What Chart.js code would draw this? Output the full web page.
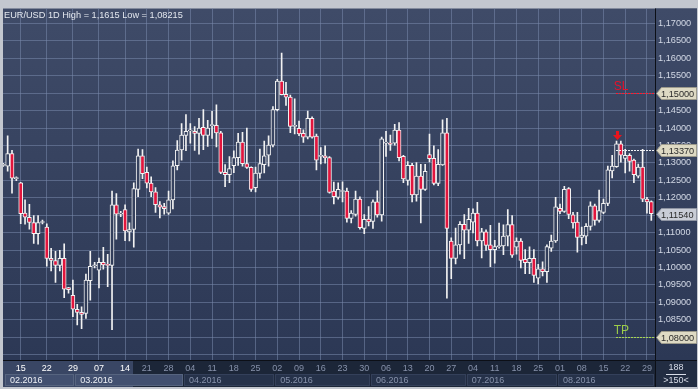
<!DOCTYPE html>
<html lang="en">
<head>
<meta charset="UTF-8" />
<title>EUR/USD 1D</title>
<script src="https://cdn.jsdelivr.net/npm/chart.js@4.4.0/dist/chart.umd.min.js"></script>
<style>
  html, body { margin: 0; padding: 0; background: #c3c7cf; }
  #wrap { width: 698px; height: 389px; }
</style>
</head>
<body>
<div id="wrap"><canvas id="candles" width="698" height="389"></canvas></div>
<script>
// daily candles, Feb -> Aug 2016, oldest first
const opens = [
  1.1293,1.1291,1.1327,1.1255,1.1243,1.1156,1.1144,1.1129,1.1097,1.1129,
  1.1116,1.1026,1.1020,1.1006,1.1026,1.0942,1.0920,1.0880,1.0871,1.0868,
  1.0962,1.1005,1.0992,1.1015,1.1007,1.1006,1.1180,1.1153,1.1166,1.1102,
  1.1109,1.1224,1.1320,1.1273,1.1242,1.1217,1.1180,1.1175,1.1156,1.1194,
  1.1292,1.1337,1.1379,1.1392,1.1391,1.1385,1.1402,1.1379,1.1407,1.1408,
  1.1386,1.1273,1.1266,1.1292,1.1315,1.1360,1.1298,1.1287,1.1229,1.1270,
  1.1295,1.1322,1.1351,1.1453,1.1535,1.1497,1.1489,1.1405,1.1399,1.1385,
  1.1374,1.1428,1.1377,1.1319,1.1320,1.1315,1.1219,1.1201,1.1218,1.1219,
  1.1141,1.1152,1.1196,1.1112,1.1139,1.1132,1.1188,1.1151,1.1357,1.1357,
  1.1357,1.1394,1.1319,1.1250,1.1293,1.1208,1.1262,1.1224,1.1324,1.1313,
  1.1241,1.1294,1.1386,1.1076,1.1026,1.1065,1.1124,1.1107,1.1130,1.1156,
  1.1076,1.1102,1.1065,1.1051,1.1060,1.1062,1.1090,1.1123,1.1058,1.1076,
  1.1023,1.1014,1.1026,1.0969,1.0996,1.0988,1.1055,1.1076,1.1170,1.1161,
  1.1226,1.1151,1.1130,1.1086,1.1090,1.1118,1.1177,1.1135,1.1158,1.1184,
  1.1277,1.1289,1.1355,1.1313,1.1322,1.1308,1.1262,1.1288,1.1196,1.1189
];
const highs = [
  1.1299,1.1378,1.1336,1.1260,1.1244,1.1194,1.1181,1.1149,1.1149,1.1136,
  1.1125,1.1055,1.1046,1.1049,1.1068,1.0943,1.0964,1.0894,1.0887,1.0981,
  1.1046,1.1015,1.1027,1.1058,1.1038,1.1219,1.1212,1.1161,1.1180,1.1128,
  1.1243,1.1340,1.1338,1.1288,1.1260,1.1229,1.1189,1.1184,1.1219,1.1306,
  1.1364,1.1413,1.1439,1.1413,1.1404,1.1428,1.1453,1.1422,1.1448,1.1467,
  1.1391,1.1295,1.1318,1.1335,1.1385,1.1388,1.1400,1.1289,1.1288,1.1340,
  1.1363,1.1378,1.1462,1.1540,1.1615,1.1531,1.1495,1.1484,1.1420,1.1395,
  1.1449,1.1432,1.1383,1.1344,1.1349,1.1318,1.1245,1.1243,1.1246,1.1228,
  1.1163,1.1219,1.1203,1.1152,1.1175,1.1194,1.1220,1.1374,1.1391,1.1380,
  1.1411,1.1416,1.1322,1.1304,1.1299,1.1301,1.1296,1.1296,1.1383,1.1349,
  1.1338,1.1424,1.1428,1.1085,1.1113,1.1132,1.1152,1.1170,1.1168,1.1187,
  1.1112,1.1108,1.1121,1.1078,1.1127,1.1122,1.1166,1.1149,1.1085,1.1083,
  1.1051,1.1059,1.1051,1.1009,1.1016,1.1065,1.1093,1.1201,1.1182,1.1233,
  1.1229,1.1158,1.1158,1.1116,1.1126,1.1188,1.1182,1.1222,1.1196,1.1291,
  1.1322,1.1363,1.1363,1.1339,1.1327,1.1311,1.1297,1.1339,1.1201,1.1191
];
const lows = [
  1.1290,1.1276,1.1213,1.1249,1.1126,1.1124,1.1110,1.1069,1.1067,1.1125,
  1.1004,1.0990,1.0957,1.0990,1.0913,1.0926,1.0859,1.0835,1.0824,1.0854,
  1.0906,1.0999,1.0941,1.0995,1.0945,1.08215,1.1081,1.1146,1.1077,1.1076,
  1.1058,1.1203,1.1255,1.1228,1.1203,1.1158,1.1142,1.1153,1.1152,1.1168,
  1.1280,1.1308,1.1335,1.1357,1.1336,1.1325,1.1338,1.1347,1.1370,1.1346,
  1.1269,1.1232,1.1243,1.1272,1.1293,1.1291,1.1284,1.1218,1.1217,1.1256,
  1.1271,1.1291,1.1346,1.1449,1.1495,1.1465,1.1387,1.1383,1.1378,1.1359,
  1.1369,1.1371,1.1280,1.1297,1.1299,1.1213,1.1182,1.1196,1.1188,1.1130,
  1.1128,1.1147,1.1110,1.1097,1.1119,1.1112,1.1144,1.1133,1.1319,1.1336,
  1.1351,1.1306,1.1243,1.1236,1.1188,1.1190,1.1128,1.1221,1.1303,1.1237,
  1.1235,1.1293,1.0912,1.0968,1.1010,1.1038,1.1025,1.1069,1.1099,1.1062,
  1.1027,1.1049,1.1002,1.1012,1.1055,1.1037,1.1062,1.1029,1.1038,1.0999,
  1.0982,1.0982,1.0957,1.0953,1.0976,1.0957,1.1046,1.1072,1.1154,1.1158,
  1.1140,1.1113,1.1044,1.1065,1.1068,1.1107,1.1121,1.1130,1.1154,1.1177,
  1.1257,1.1287,1.1302,1.1271,1.1276,1.1243,1.1257,1.1189,1.1156,1.1135
];
const closes = [
  1.1295,1.1327,1.1256,1.1256,1.1154,1.1144,1.1129,1.1097,1.1129,1.1131,
  1.1026,1.1020,1.1006,1.1026,1.0938,1.0936,1.0880,1.0871,1.0865,1.0964,
  1.1003,1.1006,1.1015,1.1007,1.1006,1.1180,1.1153,1.1154,1.1105,1.1109,
  1.1226,1.1320,1.1269,1.1242,1.1217,1.1180,1.1173,1.1169,1.1194,1.1292,
  1.1337,1.1380,1.1391,1.1393,1.1385,1.1400,1.1379,1.1400,1.1408,1.1386,
  1.1273,1.1266,1.1284,1.1315,1.1360,1.1298,1.1287,1.1224,1.1271,1.1298,
  1.1320,1.1351,1.1453,1.1535,1.1496,1.1489,1.1405,1.1406,1.1383,1.1374,
  1.1428,1.1374,1.1308,1.1320,1.1315,1.1215,1.1203,1.1224,1.1219,1.1141,
  1.1156,1.1196,1.1114,1.1138,1.1131,1.1188,1.1151,1.1369,1.1358,1.1353,
  1.1394,1.1315,1.1254,1.1293,1.1208,1.1262,1.1224,1.1276,1.1312,1.1241,
  1.1296,1.1386,1.1112,1.1026,1.1065,1.1124,1.1107,1.1138,1.1156,1.1076,
  1.1102,1.1063,1.1051,1.1060,1.1061,1.1090,1.1123,1.1035,1.1076,1.1020,
  1.1014,1.1026,1.0977,1.0996,1.0988,1.1060,1.1076,1.1174,1.1161,1.1224,
  1.1152,1.1128,1.1086,1.1093,1.1118,1.1177,1.1135,1.1163,1.1184,1.1280,
  1.1291,1.1355,1.1322,1.1322,1.1304,1.1266,1.1288,1.1196,1.1188,1.1154
];

// bottom axis: day labels on Mondays, month boxes
const tickIdx  = [4,10,16,22,28,33,38,43,48,53,58,63,68,73,78,83,88,93,98,103,108,113,118,123,128,133,138,143,148];
const tickText = ['15','22','29','07','14','21','28','04','11','18','25','02','09','16','23','30','06','13','20','27','04','11','18','25','01','08','15','22','29'];
const monthIdx  = [0, 17, 42, 63, 85, 107, 128];
const monthText = ['02.2016','03.2016','04.2016','05.2016','06.2016','07.2016','08.2016'];
const lastShownIdx = 28;

// price axis
const yTicks = [1.075,1.08,1.085,1.09,1.095,1.10,1.105,1.11,1.115,1.12,1.125,1.13,1.135,1.14,1.145,1.15,1.155,1.16,1.165,1.17];

// order levels
const levelSL = 1.15;
const levelEntry = 1.1337;
const levelTP = 1.08;
const entryIdx = 141;

const RED = '#e2153d';
const WHITE = '#f2f2f2';
const GRID = 'rgba(120,136,172,0.55)';
const FONT = 'Liberation Sans, Arial, sans-serif';

let fillCache = null;
function plotFill(chart) {
  const a = chart.chartArea;
  if (!a) return '#35415e';
  if (fillCache && fillCache.top === a.top && fillCache.bottom === a.bottom) return fillCache.g;
  const g = chart.ctx.createLinearGradient(0, a.top, 0, a.bottom);
  g.addColorStop(0, '#3f4b68');
  g.addColorStop(1, '#2c3855');
  fillCache = { top: a.top, bottom: a.bottom, g: g };
  return g;
}

function fmt(v) { return v.toFixed(5).replace('.', ','); }

const frame = {
  id: 'frame',
  beforeDraw(chart) {
    const { ctx, chartArea: a, width, height } = chart;
    const xs = chart.scales.x;
    ctx.save();
    ctx.fillStyle = '#c3c7cf';
    ctx.fillRect(0, 0, width, height);
    ctx.fillStyle = plotFill(chart);
    ctx.fillRect(a.left, a.top, width - 1 - a.left, a.bottom - a.top);

    // bottom band
    const bTop = a.bottom, bBot = height - 2;
    ctx.fillStyle = '#1c2638';
    ctx.fillRect(a.left, bTop, a.right - a.left, bBot - bTop);
    ctx.fillStyle = '#394664';
    ctx.fillRect(a.left, bTop, 133 - a.left, bBot - bTop);

    // month boxes
    ctx.font = '9px ' + FONT;
    ctx.textBaseline = 'middle';
    ctx.textAlign = 'left';
    for (let i = 0; i < monthIdx.length; i++) {
      const x0 = i === 0 ? a.left + 2 : xs.getPixelForValue(monthIdx[i]) - 2;
      const x1 = i + 1 < monthIdx.length ? xs.getPixelForValue(monthIdx[i + 1]) - 2 : a.right;
      const shown = monthIdx[i] <= lastShownIdx;
      ctx.fillStyle = shown ? '#425070' : '#26324a';
      ctx.fillRect(x0, bTop + 14, x1 - x0 - 1, 12);
      ctx.strokeStyle = shown ? '#56647f' : '#34405a';
      ctx.lineWidth = 1;
      ctx.strokeRect(Math.round(x0) + 0.5, bTop + 14.5, Math.round(x1 - x0) - 2, 11);
      ctx.fillStyle = shown ? '#eef1f6' : '#8792ab';
      ctx.fillText(monthText[i], x0 + 5, bTop + 20.5);
    }

    // right panel
    ctx.fillStyle = plotFill(chart);
    ctx.fillRect(a.right, a.top, width - 1 - a.right, a.bottom - a.top);
    ctx.fillStyle = '#222d42';
    ctx.fillRect(a.right, a.bottom, width - 1 - a.right, height - 2 - a.bottom);

    ctx.fillStyle = '#0c0f16';
    ctx.fillRect(a.right, a.top, 1, height - a.top - 2);
    ctx.fillRect(a.left, a.bottom, width - 1 - a.left, 1);
    ctx.restore();
  },
  afterDraw(chart) {
    const { ctx, chartArea: a, width } = chart;
    const xs = chart.scales.x, ys = chart.scales.y;
    ctx.save();
    const x0 = xs.getPixelForValue(entryIdx - 0.2);

    function dashLine(y, color) {
      ctx.strokeStyle = color;
      ctx.lineWidth = 1;
      ctx.setLineDash([2, 1]);
      ctx.beginPath();
      ctx.moveTo(Math.round(x0), Math.round(y) + 0.5);
      ctx.lineTo(a.right, Math.round(y) + 0.5);
      ctx.stroke();
      ctx.setLineDash([]);
    }
    function tag(price, fill, stroke) {
      const y = Math.round(ys.getPixelForValue(price));
      ctx.fillStyle = fill;
      ctx.strokeStyle = stroke;
      ctx.lineWidth = 1;
      ctx.beginPath();
      ctx.moveTo(a.right + 1.5, y + 0.5);
      ctx.lineTo(a.right + 6.5, y - 5.5);
      ctx.lineTo(width - 1.5, y - 5.5);
      ctx.lineTo(width - 1.5, y + 6.5);
      ctx.lineTo(a.right + 6.5, y + 6.5);
      ctx.closePath();
      ctx.fill();
      ctx.stroke();
      ctx.fillStyle = '#2a2a2a';
      ctx.font = '9.2px ' + FONT;
      ctx.textAlign = 'left';
      ctx.textBaseline = 'middle';
      ctx.fillText(fmt(price), a.right + 6, y + 1);
    }

    const ySL = ys.getPixelForValue(levelSL);
    const yEn = ys.getPixelForValue(levelEntry);
    const yTP = ys.getPixelForValue(levelTP);
    dashLine(ySL, '#ff1a2e');
    dashLine(yEn, '#f0f2f6');
    dashLine(yTP, '#a8d850');

    ctx.font = '12px ' + FONT;
    ctx.textAlign = 'left';
    ctx.textBaseline = 'alphabetic';
    ctx.fillStyle = '#e8102a';
    ctx.fillText('SL', x0 - 2, ySL - 3);
    ctx.fillStyle = '#9ccc48';
    ctx.fillText('TP', x0 - 2, yTP - 3);

    // sell arrow above the entry candle
    const ax = Math.round(xs.getPixelForValue(entryIdx)) + 0.5;
    const at = ys.getPixelForValue(highs[entryIdx]) - 1;
    ctx.fillStyle = '#e8141c';
    ctx.beginPath();
    ctx.moveTo(ax - 1.5, at - 9);
    ctx.lineTo(ax + 1.5, at - 9);
    ctx.lineTo(ax + 1.5, at - 5);
    ctx.lineTo(ax + 4.5, at - 5);
    ctx.lineTo(ax, at);
    ctx.lineTo(ax - 4.5, at - 5);
    ctx.lineTo(ax - 1.5, at - 5);
    ctx.closePath();
    ctx.fill();

    tag(levelSL, '#dedac4', '#9c9a8c');
    tag(levelEntry, '#dedac4', '#9c9a8c');
    tag(closes[closes.length - 1], '#c9cdd6', '#8e94a2');
    tag(levelTP, '#dedac4', '#9c9a8c');

    // title
    ctx.font = '9.2px ' + FONT;
    ctx.fillStyle = '#e4e8ef';
    ctx.textAlign = 'left';
    ctx.textBaseline = 'middle';
    ctx.fillText('EUR/USD 1D High = 1,1615 Low = 1,08215', a.left + 1, a.top + 7);

    // corner counter
    const cx = (a.right + width - 1) / 2;
    ctx.fillStyle = '#d8dde8';
    ctx.textAlign = 'center';
    ctx.font = '9px ' + FONT;
    ctx.fillText('188', cx, a.bottom + 8);
    ctx.fillRect(cx - 10, a.bottom + 14, 20, 1);
    ctx.fillText('>150<', cx, a.bottom + 20.5);
    ctx.restore();
  }
};

new Chart(document.getElementById('candles'), {
  type: 'bar',
  data: {
    datasets: [
      {
        label: 'body',
        order: 0,
        grouped: false,
        data: opens.map((o, i) => ({ x: i, y: [Math.min(o, closes[i]), Math.max(o, closes[i])] })),
        barThickness: 4,
        borderWidth: 1,
        borderColor: WHITE,
        borderSkipped: false,
        minBarLength: 1,
        backgroundColor: c => closes[c.dataIndex] < opens[c.dataIndex] ? RED : plotFill(c.chart)
      },
      {
        label: 'wick',
        order: 1,
        grouped: false,
        data: highs.map((h, i) => ({ x: i, y: [lows[i], h] })),
        barThickness: 1,
        backgroundColor: WHITE
      }
    ]
  },
  options: {
    responsive: false,
    animation: false,
    events: [],
    layout: { padding: { left: 3, top: 2, right: 1, bottom: 2 } },
    plugins: { legend: { display: false }, tooltip: { enabled: false } },
    scales: {
      x: {
        type: 'linear',
        offset: false,
        min: -0.07,
        max: 149.85,
        afterBuildTicks: s => { s.ticks = tickIdx.map(v => ({ value: v })); },
        afterFit: s => { s.height = 27; },
        border: { display: false },
        grid: { color: GRID, lineWidth: 1, offset: false, drawTicks: false },
        ticks: {
          autoSkip: false,
          maxRotation: 0,
          padding: 3,
          font: { family: FONT, size: 9 },
          color: c => (c.tick && c.tick.value <= lastShownIdx) ? '#ffffff' : '#8792ab',
          callback: v => tickText[tickIdx.indexOf(v)]
        }
      },
      y: {
        position: 'right',
        min: 1.07344,
        max: 1.17431,
        afterBuildTicks: s => { s.ticks = yTicks.map(v => ({ value: v })); },
        afterFit: s => { s.width = 42; },
        border: { display: false },
        grid: { color: GRID, lineWidth: 1, drawTicks: false },
        ticks: {
          padding: 3,
          font: { family: FONT, size: 9.2 },
          color: '#d3d9e6',
          callback: v => v < 1.0775 ? '' : fmt(v)
        }
      }
    }
  },
  plugins: [frame]
});
</script>
</body>
</html>
